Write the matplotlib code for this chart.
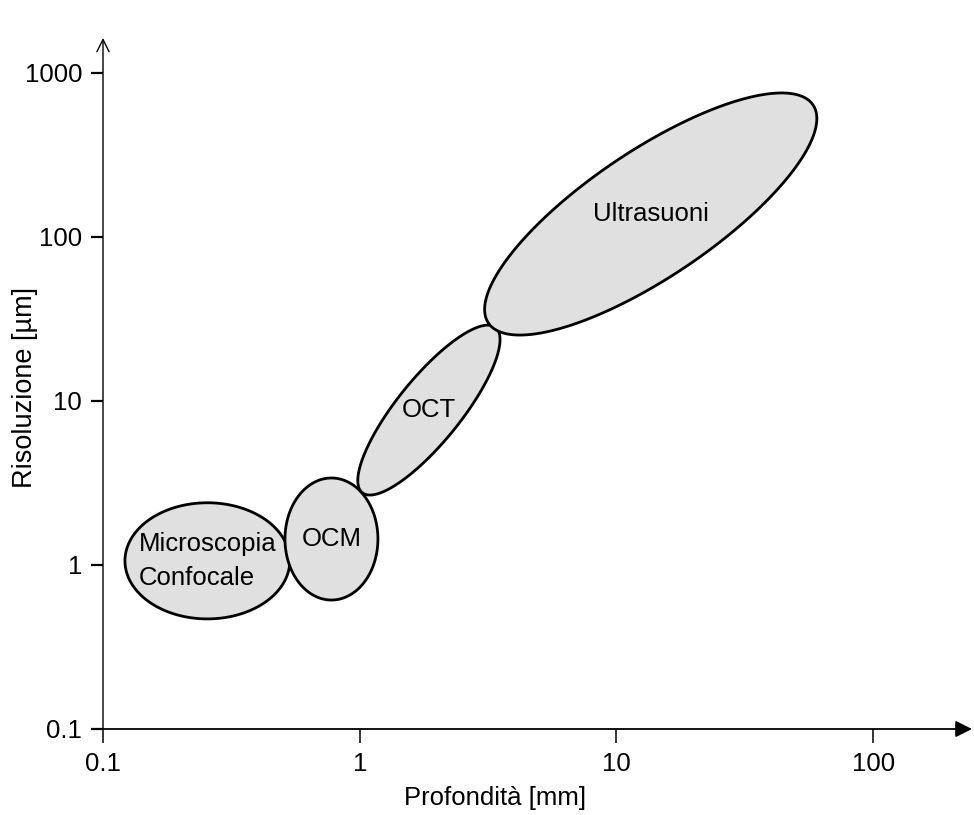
import matplotlib
matplotlib.use("Agg")
import matplotlib.pyplot as plt
import numpy as np

plt.rcParams['font.family'] = ['Liberation Sans', 'DejaVu Sans']

# regioni di lavoro delle tecniche di imaging (centro e semiampiezza in decadi)
tecniche = ["Microscopia\nConfocale", "OCM", "OCT", "Ultrasuoni"]
profondita_mm = [0.255, 0.776, 1.86, 13.6]
risoluzione_um = [1.06, 1.44, 8.8, 138]
semi_prof_dec = [0.321, 0.181, 0.277, 0.647]
semi_ris_dec = [0.354, 0.372, 0.518, 0.738]
inclinazione_deg = [90, 90, 34, 38]

x_ticks = [0.1, 1, 10, 100]
x_labels = ["0.1", "1", "10", "100"]
y_ticks = [0.1, 1, 10, 100, 1000]
y_labels = ["0.1", "1", "10", "100", "1000"]

W, H = 974, 815
fig = plt.figure(figsize=(W / 100, H / 100), dpi=100)
ax = fig.add_axes([103 / W, 86 / H, (972 - 103) / W, (729 - 38) / H])
ax.set_xscale('log')
ax.set_yscale('log')
ax.set_xlim(0.1, 10 ** 2.385)
ax.set_ylim(0.1, 10 ** 3.213)

t = np.linspace(0, 2 * np.pi, 400)
for nome, cx, cy, hx, hy, phi in zip(tecniche, profondita_mm, risoluzione_um,
                                     semi_prof_dec, semi_ris_dec, inclinazione_deg):
    lx = np.log10(cx) + hx * np.cos(t)
    ly = np.log10(cy) + hy * np.cos(t - np.radians(phi))
    ax.fill(10 ** lx, 10 ** ly, facecolor='#e0e0e0', edgecolor='black', lw=2.0, zorder=2)
    ax.text(cx, cy, nome, ha='center', va='center', multialignment='left',
            fontsize=18.5, linespacing=1.5, zorder=3)

for s in ax.spines.values():
    s.set_visible(False)

# assi con frecce
ax.annotate('', xy=(1.0, 0), xytext=(0, 0), xycoords='axes fraction',
            arrowprops=dict(arrowstyle='-|>', color='black', lw=1.3,
                            mutation_scale=25, shrinkA=0, shrinkB=0))
ax.annotate('', xy=(0, 1.0), xytext=(0, 0), xycoords='axes fraction',
            arrowprops=dict(arrowstyle='->', color='black', lw=1.0,
                            mutation_scale=22, shrinkA=0, shrinkB=0))

ax.set_xticks(x_ticks)
ax.set_xticklabels(x_labels)
ax.set_yticks(y_ticks)
ax.set_yticklabels(y_labels)
ax.minorticks_off()
ax.tick_params(axis='x', direction='out', length=10, width=1.1, pad=6.5, labelsize=18.5)
ax.tick_params(axis='y', direction='out', length=8.6, width=1.6, pad=6.5, labelsize=18.5)

fig.text(495.5 / W, (H - 805) / H, 'Profondità [mm]', fontsize=18.5,
         ha='center', va='baseline')
fig.text(25 / W, (H - 388) / H, 'Risoluzione [µm]', fontsize=19.5,
         rotation=90, ha='center', va='center')

fig.savefig('out.png', dpi=100)
